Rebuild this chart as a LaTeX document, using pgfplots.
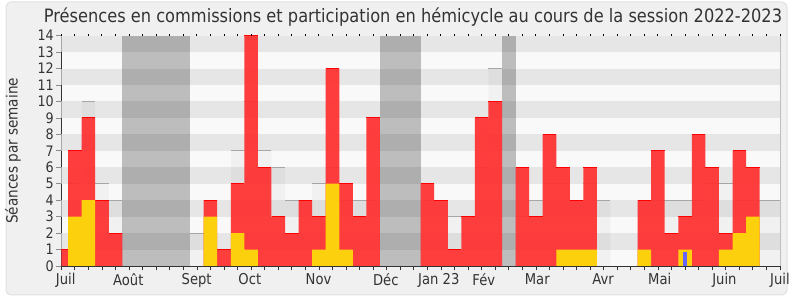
\documentclass[border=0pt]{standalone}
\usepackage{pgfplots}
\pgfplotsset{compat=1.18}
\usepackage{fontspec}
\setmainfont{DejaVu Sans}[FakeStretch=0.88]
\definecolor{txt}{HTML}{333333}
\definecolor{bandg}{HTML}{E6E6E6}
\definecolor{bandw}{HTML}{F9F9F9}
\definecolor{rouge}{HTML}{FF3030}
\definecolor{jaune}{HTML}{FDD00E}
\definecolor{bleu}{HTML}{6666FF}
\definecolor{cadre}{HTML}{F0F0F0}
\begin{document}
\begin{tikzpicture}
\path[use as bounding box] (0,0) rectangle (790bp,300bp);
\fill[white] (0,0) rectangle (790bp,300bp);
\filldraw[fill=cadre, draw=black!12, line width=1bp, rounded corners=5bp] (6bp,5bp) rectangle (787bp,298bp);
\node[txt, font=\fontsize{18.5}{21}\selectfont] at (413bp,283bp) {Présences en commissions et participation en hémicycle au cours de la session 2022-2023};
\begin{axis}[
  at={(61.3bp,34bp)}, anchor=south west, scale only axis,
  width=718.7bp, height=230.3bp,
  xmin=0, xmax=53, ymin=0, ymax=14,
  axis background/.style={fill=bandw},
  axis x line*=bottom, axis y line*=left,
  axis line style={draw=txt, line width=0.9bp, -},
  tick align=outside,
  xtick={0.32,4.94,9.98,13.9,18.97,23.93,27.84,31.16,35.1,39.95,44.13,48.9,53},
  xticklabels={Juil,Août,Sept,Oct,Nov,Déc,Jan 23,Fév,Mar,Avr,Mai,Juin,Juil},
  minor xtick={0,...,53},
  major x tick style={draw=none},
  minor x tick style={draw=txt, line width=0.8bp},
  minor tick length=4bp,
  ytick={0,...,14},
  major y tick style={draw=black!45, line width=0.8bp},
  major tick length=5bp,
  tick label style={txt},
  xticklabel style={font=\fontsize{15}{16}\selectfont, yshift=1bp},
  yticklabel style={font=\fontsize{14.5}{16}\selectfont, xshift=1bp},
  /pgf/number format/assume math mode=true,
  ylabel={Séances par semaine},
  ylabel style={txt, font=\fontsize{15.5}{17}\selectfont, at={(axis description cs:-0.0671,0.5)}, anchor=center},
  clip marker paths=true,
]
\pgfplotsinvokeforeach{1,3,5,7,9,11,13}{
  \fill[bandg] (axis cs:0,#1) rectangle (axis cs:53,#1+1);
}
% vacances
\addplot[fill=black, fill opacity=0.24, draw=none, forget plot] coordinates {(4.5,14)(9.5,14)} \closedcycle;
\addplot[fill=black, fill opacity=0.24, draw=none, forget plot] coordinates {(23.5,14)(26.5,14)} \closedcycle;
\addplot[fill=black, fill opacity=0.24, draw=none, forget plot] coordinates {(32.5,14)(33.5,14)} \closedcycle;
% mediane
\addplot[ybar, bar width=1, bar shift=0pt, fill=black, fill opacity=0.03, draw=none] coordinates {
(0,1)(1,5)(2,10)(3,5)(4,4)(10,2)(11,2)(12,1)(13,7)(14,10)(15,7)(16,6)(17,4)(18,4)(19,5)(20,6)(21,4)(22,4)(23,4)(27,4)(28,4)(29,3)(30,3)(31,6)(32,12)(34,3)(35,4)(36,5)(37,5)(38,4)(39,5)(40,4)(43,4)(44,4)(45,4)(46,4)(47,4)(48,5)(49,5)(50,4)(51,4)(52,4)(53,4)};
\addplot[only marks, mark=-, mark size=6.78pt, mark options={draw=black!35, line width=0.9bp}] coordinates {
(0,1)(1,5)(2,10)(3,5)(4,4)(10,2)(11,2)(12,1)(13,7)(14,10)(15,7)(16,6)(17,4)(18,4)(19,5)(20,6)(21,4)(22,4)(23,4)(27,4)(28,4)(29,3)(30,3)(31,6)(32,12)(34,3)(35,4)(36,5)(37,5)(38,4)(39,5)(40,4)(43,4)(44,4)(45,4)(46,4)(47,4)(48,5)(49,5)(50,4)(51,4)(52,4)(53,4)};
% presences
\addplot[ybar, bar width=1, bar shift=0pt, fill=rouge, fill opacity=0.93, draw=none] coordinates {
(0,1)(1,7)(2,9)(3,4)(4,2)(11,4)(12,1)(13,5)(14,14)(15,6)(16,3)(17,2)(18,4)(19,3)(20,12)(21,5)(22,3)(23,9)(27,5)(28,4)(29,1)(30,3)(31,9)(32,10)(34,6)(35,3)(36,8)(37,6)(38,4)(39,6)(43,4)(44,7)(45,2)(46,3)(47,8)(48,6)(49,2)(50,7)(51,6)};
\addplot[only marks, mark=-, mark size=6.78pt, mark options={draw=red, line width=0.9bp}] coordinates {
(0,1)(1,7)(2,9)(3,4)(4,2)(11,4)(12,1)(13,5)(14,14)(15,6)(16,3)(17,2)(18,4)(19,3)(20,12)(21,5)(22,3)(23,9)(27,5)(28,4)(29,1)(30,3)(31,9)(32,10)(34,6)(35,3)(36,8)(37,6)(38,4)(39,6)(43,4)(44,7)(45,2)(46,3)(47,8)(48,6)(49,2)(50,7)(51,6)};
% participation hemicycle
\addplot[ybar, bar width=1, bar shift=0pt, fill=jaune, draw=none] coordinates {
(1,3)(2,4)(11,3)(13,2)(14,1)(19,1)(20,5)(21,1)(37,1)(38,1)(39,1)(43,1)(46,1)(49,1)(50,2)(51,3)};
% questions
\addplot[ybar, bar width=0.3, bar shift=0pt, fill=bleu, draw=none] coordinates {(46,0.87)};
\end{axis}
\begin{axis}[
  at={(61.3bp,34bp)}, anchor=south west, scale only axis,
  width=718.7bp, height=230.3bp,
  xmin=0, xmax=53, ymin=0, ymax=14,
  axis x line*=top, axis y line*=right,
  x axis line style={draw=none}, y axis line style={draw=black!25, line width=0.9bp},
  xtick={0,...,53}, xticklabels={}, ytick=\empty,
  tick align=outside, major tick length=1.5bp,
  major x tick style={draw=black, line width=1bp},
]
\end{axis}
\end{tikzpicture}
\end{document}
